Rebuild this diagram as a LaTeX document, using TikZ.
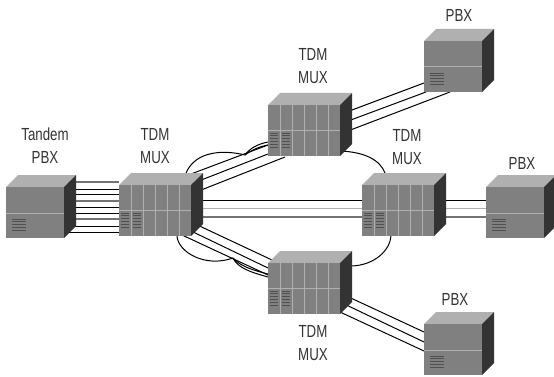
\documentclass[tikz,border=0pt]{standalone}
\usepackage{fontspec}
\setmainfont[FakeStretch=0.76]{Liberation Sans}
\usetikzlibrary{backgrounds}
\definecolor{frontgray}{HTML}{808080}
\definecolor{topgray}{HTML}{B0B0B0}
\definecolor{sidegray}{HTML}{333333}
\definecolor{slotgray}{HTML}{505050}
\tikzset{
  frontbox/.style={fill=frontgray, inner sep=0pt, outer sep=0pt, anchor=north west},
  wire/.style={draw=black, line width=1pt},
  greywire/.style={draw=black!55, line width=1.4pt},
  paleline/.style={draw=topgray, line width=1pt},
  slot/.style={draw=slotgray, line width=0.8pt},
  boxlabel/.style={font=\fontsize{17.5}{23}\selectfont, text=black!80, align=center, inner sep=0pt}
}
\newcommand{\pbxbox}[3]{
\begin{scope}[shift={(#2,#3)}]
  \fill[topgray] (0,0) -- (12,-12) -- (70,-12) -- (58,0) -- cycle;
  \fill[sidegray] (58,0) -- (70,-12) -- (70,39) -- (58,51) -- cycle;
  \node[frontbox, minimum width=58pt, minimum height=51pt] (#1) at (0,0) {};
  \draw[paleline] (0,26) -- (58,26);
  \foreach \yy in {32,34.8,...,46} {\draw[slot] (6,\yy) -- (20,\yy);}
\end{scope}}
\newcommand{\muxbox}[3]{
\begin{scope}[shift={(#2,#3)}]
  \fill[topgray] (0,0) -- (12,-12) -- (84,-12) -- (72,0) -- cycle;
  \fill[sidegray] (72,0) -- (84,-12) -- (84,39) -- (72,51) -- cycle;
  \node[frontbox, minimum width=72pt, minimum height=51pt] (#1) at (0,0) {};
  \draw[paleline] (0,25.5) -- (72,25.5);
  \foreach \xx in {12,24,...,60} {
    \draw[draw=slotgray, line width=0.6pt] (\xx,0) -- (\xx,51);
    \draw[draw=topgray, line width=0.5pt] (\xx+0.7,0) -- (\xx+0.7,51);
  }
  \foreach \xx in {2.3,14.3} {
    \foreach \yy in {28,30.8,...,43} {\draw[slot] (\xx,\yy) -- (\xx+7.7,\yy);}
  }
\end{scope}}
\begin{document}
\begin{tikzpicture}[x=1pt, y=-1pt]
\useasboundingbox (0,0) rectangle (554,377);
\pbxbox{pbxt}{6}{187}
\pbxbox{pbxa}{424}{41}
\pbxbox{pbxr}{486}{187}
\pbxbox{pbxb}{424}{324}
\muxbox{muxl}{119}{185}
\muxbox{muxa}{268}{105}
\muxbox{muxr}{362}{185}
\muxbox{muxb}{268}{263}
\node[boxlabel] (lbltandem) at (45,146) {Tandem\\PBX};
\node[boxlabel] (lblmuxl) at (155,146) {TDM\\MUX};
\node[boxlabel] (lblmuxa) at (313,66) {TDM\\MUX};
\node[boxlabel] (lblmuxr) at (407,147) {TDM\\MUX};
\node[boxlabel] (lblmuxb) at (313,343) {TDM\\MUX};
\node[boxlabel] (lblpbxa) at (459,15) {PBX};
\node[boxlabel] (lblpbxr) at (522,163) {PBX};
\node[boxlabel] (lblpbxb) at (455,299) {PBX};
\coordinate (jointa) at (245,155);
\coordinate (jointb) at (233,258);
\begin{scope}[on background layer]
  \foreach \ya/\yb/\wirekind in {-5/-3/greywire, 2/4/wire, 7/9/wire, 14/16/greywire, 20/22/wire, 26/28/wire, 32/34/greywire, 39/41/wire, 45/47/wire} {
    \draw[\wirekind] ([shift={(0,\ya)}]pbxt.north east) -- ([shift={(0,\yb)}]muxl.north west);
  }
  \foreach \yy/\yr/\wirekind in {15/13/wire, 23/21/paleline, 32/30/greywire} {
    \draw[\wirekind] ([shift={(0,\yy)}]muxl.north east) -- ([shift={(0,\yy)}]muxr.north west);
    \draw[\wirekind] ([shift={(0,\yy)}]muxr.north east) -- ([shift={(0,\yr)}]pbxr.north west);
  }
  \draw[wire] ([shift={(0,-11)}]muxl.north east) -- ([shift={(0,40)}]muxa.north west);
  \draw[wire] ([shift={(0,-1)}]muxl.north east) -- ([shift={(0,49)}]muxa.north west);
  \draw[wire] ([shift={(0,9)}]muxl.north east) -- ([shift={(17,52)}]muxa.north west);
  \draw[wire] ([shift={(0,9.5)}]muxa.north east) -- ([shift={(0,42)}]pbxa.north west);
  \draw[wire] ([shift={(0,19)}]muxa.north east) -- ([shift={(2,51)}]pbxa.north west);
  \draw[wire] ([shift={(0,29)}]muxa.north east) -- ([shift={(26,51)}]pbxa.north west);
  \draw[wire] ([shift={(0,37)}]muxl.north east) -- ([shift={(4,-3)}]muxb.north west);
  \draw[wire] ([shift={(0,46)}]muxl.north east) -- ([shift={(0,5)}]muxb.north west);
  \draw[wire] ([shift={(-9,50)}]muxl.north east) -- ([shift={(0,12)}]muxb.north west);
  \draw[wire] ([shift={(0,30)}]muxb.north east) -- ([shift={(0,8)}]pbxb.north west);
  \draw[wire] ([shift={(0,39)}]muxb.north east) -- ([shift={(0,18)}]pbxb.north west);
  \draw[wire] ([shift={(0,49)}]muxb.north east) -- ([shift={(0,27)}]pbxb.north west);
  \draw[wire] ([shift={(67,-12)}]muxl.north west) .. controls (196,150) and (225,150) .. (jointa);
  \draw[wire] (jointa) .. controls (250,148) and (258,144) .. ([shift={(0,37)}]muxa.north west);
  \draw[wire] (jointa) .. controls (252,150) and (258,147) .. ([shift={(0,40)}]muxa.north west);
  \draw[wire] ([shift={(0,-5)}]muxa.south east) .. controls (365,152) and (380,160) .. ([shift={(23,-12)}]muxr.north west);
  \draw[wire] ([shift={(58,0)}]muxl.south west) .. controls (178,252) and (205,268) .. (jointb);
  \draw[wire] (jointb) .. controls (238,268) and (250,272) .. ([shift={(0,14)}]muxb.north west);
  \draw[wire] (jointb) .. controls (240,266) and (252,270) .. ([shift={(0,11)}]muxb.north west);
  \draw[wire] ([shift={(29,0)}]muxr.south west) .. controls (390,250) and (375,265) .. ([shift={(12,3)}]muxb.north east);
\end{scope}
\end{tikzpicture}
\end{document}
